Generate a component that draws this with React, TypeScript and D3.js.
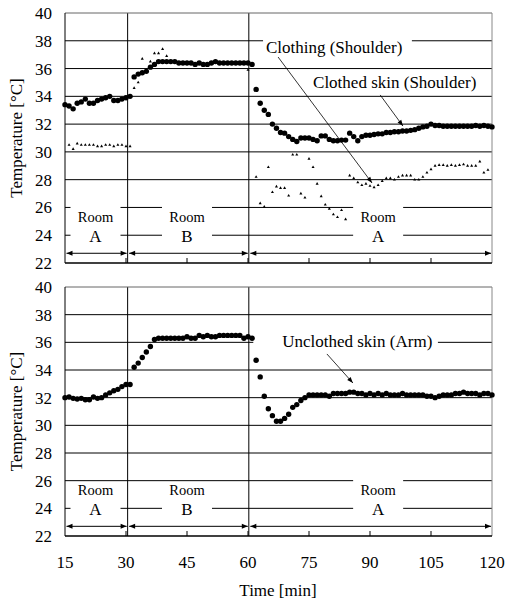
import React from "react";
import * as d3 from "d3";

// ---------- data ----------
const firstMinute = 15;
const yTicks = [22, 24, 26, 28, 30, 32, 34, 36, 38, 40];
const xTicks = [15, 30, 45, 60, 75, 90, 105, 120];
const phaseBounds = [15, 30.4, 60.2, 120];
const phaseRooms = ["A", "B", "A"];
const roomLabelCenters = [22.5, 45, 92];

// Clothed skin (Shoulder), 1-min samples, t = 15..120
const shoulderSkin = [
  33.4, 33.3, 33.1, 33.5, 33.6, 33.8, 33.5, 33.5, 33.7, 33.8, 33.9, 34.0, 33.7, 33.7, 33.8, 33.9, 34.0,
  35.4, 35.6, 35.7, 35.8, 36.1, 36.3, 36.5, 36.5, 36.5, 36.5, 36.5, 36.4, 36.4, 36.4, 36.4, 36.3, 36.4, 36.3, 36.3, 36.4,
  36.5, 36.4, 36.4, 36.4, 36.4, 36.4, 36.4, 36.4, 36.4, 36.3,
  34.5, 33.5, 33.0, 32.7, 32.0, 31.7, 31.4, 31.35, 31.1, 30.9, 30.75, 31.0, 31.0, 31.0, 30.9, 30.8, 31.15, 31.15, 30.9, 30.8,
  30.8, 30.85, 30.85, 31.35, 31.1, 30.8, 31.1, 31.2, 31.2, 31.25, 31.3, 31.3, 31.4, 31.4, 31.45, 31.45, 31.5, 31.5, 31.55, 31.6,
  31.7, 31.8, 31.85, 32.0, 31.9, 31.9, 31.85, 31.85, 31.85, 31.85, 31.85, 31.85, 31.85, 31.85, 31.9, 31.85, 31.9, 31.85, 31.8,
];

// Clothing (Shoulder), t = 15..120 (null = no marker)
const shoulderClothing = [
  null,
  30.5, 30.2, 30.6, 30.5, 30.5, 30.5, 30.5, 30.4, 30.4, 30.5, 30.5, 30.4, 30.5, 30.5, 30.4, 30.4,
  34.6, 35.0, 36.7, 35.9, 36.5, 37.1, 37.1, 37.4, 36.9, 36.5, 36.5, 36.4, 36.4, 36.4, 36.4, 36.3, 36.4, 36.3, 36.3, 36.4,
  36.5, 36.4, 36.4, 36.4, 36.4, 36.4, 36.4, 36.4, 35.9, 36.3,
  28.2, 26.3, 26.05, 28.9, 27.1, 27.5, 27.4, 27.4, 26.85, 29.8, 29.8, 27.0, 26.7, 29.5, 28.9, 27.7, 26.8, 26.2, 25.9, 25.5,
  25.3, 25.8, 25.15, 28.3, 28.1, 27.8, 27.6, 27.7, 27.55, 27.45, 27.6, 27.9, 28.1, 28.1, 28.0, 28.2, 28.3, 28.3, 28.3, 28.0,
  28.0, 28.2, 28.5, 28.75, 29.0, 29.05, 29.05, 29.0, 29.05, 29.0, 29.05, 29.1, 29.0, 29.0, 29.0, 29.3, 28.5, 28.7, null,
];

// Unclothed skin (Arm), t = 15..120
const armSkin = [
  32.0, 32.05, 31.95, 31.9, 31.95, 31.85, 31.85, 32.05, 31.95, 32.0, 32.2, 32.35, 32.5, 32.6, 32.8, 32.95, 32.95,
  34.2, 34.5, 34.9, 35.3, 35.7, 36.2, 36.3, 36.3, 36.3, 36.3, 36.3, 36.3, 36.3, 36.4, 36.3, 36.3, 36.5, 36.4, 36.5, 36.4,
  36.4, 36.5, 36.5, 36.5, 36.5, 36.5, 36.5, 36.3, 36.4, 36.3,
  34.7, 33.5, 32.1, 31.2, 30.7, 30.3, 30.3, 30.5, 30.8, 31.3, 31.5, 31.8, 32.0, 32.2, 32.2, 32.2, 32.2, 32.2, 32.1, 32.3,
  32.3, 32.3, 32.3, 32.4, 32.4, 32.3, 32.3, 32.2, 32.3, 32.2, 32.3, 32.2, 32.3, 32.2, 32.2, 32.2, 32.3, 32.2, 32.2, 32.2,
  32.2, 32.2, 32.1, 32.1, 32.0, 32.1, 32.2, 32.2, 32.2, 32.3, 32.3, 32.4, 32.3, 32.3, 32.3, 32.2, 32.3, 32.3, 32.2,
];

// ---------- layout ----------
const W = 507;
const H = 606;
const FONT = "Times New Roman, Liberation Serif, DejaVu Serif, serif";

const x = d3.scaleLinear().domain([15, 120]).range([65, 492]);
const yTop = d3.scaleLinear().domain([22, 40]).range([263, 13]);
const yBot = d3.scaleLinear().domain([22, 40]).range([536, 287]);

function head(x1: number, y1: number, x2: number, y2: number, len = 6, hw = 2.3) {
  const a = Math.atan2(y2 - y1, x2 - x1);
  const bx = x2 - len * Math.cos(a);
  const by = y2 - len * Math.sin(a);
  const px = -Math.sin(a) * hw;
  const py = Math.cos(a) * hw;
  return `M${x2},${y2}L${bx + px},${by + py}L${bx - px},${by - py}Z`;
}

type Ann = { text: string; tx: number; ty: number; box?: [number, number, number, number]; from: [number, number]; to: [number, number] };

function Panel({ y, boxTops, dots, tris, anns }: { y: d3.ScaleLinear<number, number>; boxTops: number[]; dots: number[]; tris: (number | null)[]; anns: Ann[] }) {
  const [y0, y1] = y.range();
  const left = x(15);
  const right = x(120);
  const tri = d3.symbol(d3.symbolTriangle, 4)();
  const arrowY = y(22.7);
  return (
    <g>
      {yTicks.filter((v) => v > 22 && v < 40).map((v) => (
        <line key={v} x1={left} x2={right} y1={y(v)} y2={y(v)} stroke="#000" strokeWidth={1} />
      ))}
      {roomLabelCenters.map((c, i) => (
        <rect key={i} x={x(c) - 25} width={50} y={y(boxTops[i])} height={y(23.4) - y(boxTops[i])} fill="#fff" />
      ))}
      {anns.filter((a) => a.box).map((a, i) => (
        <rect key={i} x={x(a.box![0])} width={x(a.box![1]) - x(a.box![0])} y={y(a.box![2])} height={y(a.box![3]) - y(a.box![2])} fill="#fff" />
      ))}
      {phaseBounds.slice(1, 3).map((b) => (
        <line key={b} x1={x(b)} x2={x(b)} y1={y1} y2={y0} stroke="#000" strokeWidth={1} />
      ))}
      <line x1={left} x2={right} y1={y1} y2={y1} stroke="#666" strokeWidth={1} />
      <line x1={right} x2={right} y1={y1} y2={y0} stroke="#888" strokeWidth={1} />
      <line x1={left} x2={left} y1={y1} y2={y0} stroke="#000" strokeWidth={1} />
      <line x1={left} x2={right} y1={y0} y2={y0} stroke="#000" strokeWidth={1.5} />
      {xTicks.slice(1, -1).map((t) => (
        <line key={t} x1={x(t)} x2={x(t)} y1={y0} y2={y0 - 5} stroke="#000" strokeWidth={1} />
      ))}
      {yTicks.map((v) => (
        <text key={v} x={52} y={y(v)} dy="0.35em" textAnchor="end" fontSize={17} fontFamily={FONT}>{v}</text>
      ))}
      {phaseRooms.map((r, i) => {
        const a = x(phaseBounds[i]) + 1.5;
        const b = x(phaseBounds[i + 1]) - 1;
        return (
          <g key={i}>
            <line x1={a} x2={b} y1={arrowY} y2={arrowY} stroke="#000" strokeWidth={1} />
            <path d={head(b, arrowY, a, arrowY, 6, 2.5)} fill="#000" />
            <path d={head(a, arrowY, b, arrowY, 6, 2.5)} fill="#000" />
            <text x={x(roomLabelCenters[i])} y={y(25.3)} dy="0.35em" textAnchor="middle" fontSize={14.5} fontFamily={FONT}>Room</text>
            <text x={x(roomLabelCenters[i])} y={y(23.95)} dy="0.35em" textAnchor="middle" fontSize={17} fontFamily={FONT}>{r}</text>
          </g>
        );
      })}
      {tris.map((v, i) => v == null ? null : (
        <path key={"t" + i} d={tri} transform={`translate(${x(firstMinute + i)},${y(v)})`} fill="#000" />
      ))}
      {dots.map((v, i) => (
        <circle key={"d" + i} cx={x(firstMinute + i)} cy={y(v)} r={2.7} fill="#000" />
      ))}
      {anns.map((a, i) => {
        const fx = x(a.from[0]), fy = y(a.from[1]), tx = x(a.to[0]), ty = y(a.to[1]);
        return (
          <g key={i}>
            <text x={x(a.tx)} y={y(a.ty)} fontSize={17} fontFamily={FONT}>{a.text}</text>
            <line x1={fx} y1={fy} x2={tx} y2={ty} stroke="#000" strokeWidth={0.8} />
            <path d={head(fx, fy, tx, ty, 6, 2.3)} fill="#000" />
          </g>
        );
      })}
    </g>
  );
}

const topAnns: Ann[] = [
  { text: "Clothing (Shoulder)", tx: 64.4, ty: 37.1, box: [63.7, 100.3, 38.35, 36.75], from: [67.4, 36.83], to: [90.5, 27.76] },
  { text: "Clothed skin (Shoulder)", tx: 76, ty: 34.6, from: [92.5, 34.1], to: [98.1, 31.86] },
];
const botAnns: Ann[] = [
  { text: "Unclothed skin (Arm)", tx: 68.4, ty: 35.66, box: [61.3, 106.7, 36.6, 35.3], from: [79.4, 35.16], to: [85.8, 33.06] },
];

export default function App() {
  return (
    <div style={{ position: "absolute", left: 0, top: 0 }}>
      <svg width={W} height={H} style={{ display: "block", background: "#fff" }}>
        <Panel y={yTop} boxTops={[26.4, 26.4, 26.4]} dots={shoulderSkin} tris={shoulderClothing} anns={topAnns} />
        <Panel y={yBot} boxTops={[25.75, 25.75, 26.35]} dots={armSkin} tris={[]} anns={botAnns} />
        {xTicks.map((t) => (
          <text key={t} x={x(t)} y={568} textAnchor="middle" fontSize={17} fontFamily={FONT}>{t}</text>
        ))}
        <text x={278} y={596} textAnchor="middle" fontSize={17} fontFamily={FONT}>Time [min]</text>
        <text transform={`translate(22,${(yTop(22) + yTop(40)) / 2}) rotate(-90)`} textAnchor="middle" fontSize={17} fontFamily={FONT}>Temperature [°C]</text>
        <text transform={`translate(22,${(yBot(22) + yBot(40)) / 2}) rotate(-90)`} textAnchor="middle" fontSize={17} fontFamily={FONT}>Temperature [°C]</text>
      </svg>
    </div>
  );
}
